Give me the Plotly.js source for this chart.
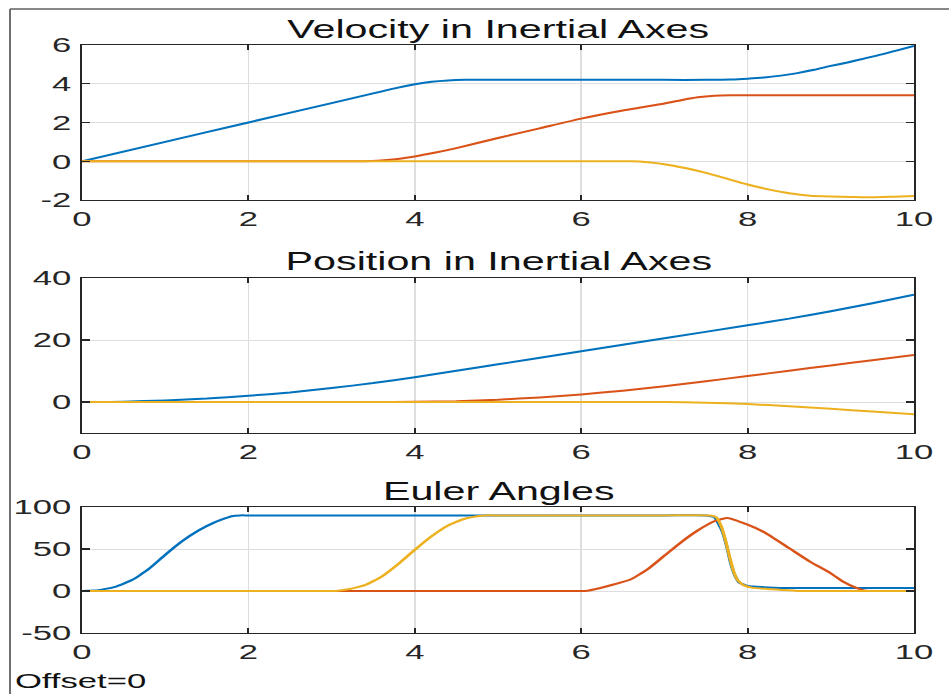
<!DOCTYPE html>
<html>
<head>
<meta charset="utf-8">
<script src="https://cdn.plot.ly/plotly-3.0.1.min.js"></script>
<style>
  html, body { margin: 0; padding: 0; background: #ffffff; overflow: hidden; }
  #wrap { width: 949px; height: 694px; overflow: hidden; position: relative; }
  #chart { width: 575px; height: 694px; transform: scaleX(1.6504); transform-origin: 0 0; }
</style>
</head>
<body>
<div id="wrap"><div id="chart"></div></div>
<script>
// ---------- Velocity in Inertial Axes ----------
const velBlueT = [0, 1, 2, 3, 3.5, 3.8, 4, 4.2, 4.4, 4.6, 5, 6, 7, 7.5, 7.8, 8, 8.2, 8.4, 8.6, 8.8, 9, 9.2, 9.4, 9.6, 9.8, 10];
const velBlueV = [0, 1, 2, 3, 3.5, 3.8, 3.97, 4.1, 4.17, 4.2, 4.2, 4.2, 4.2, 4.2, 4.22, 4.26, 4.32, 4.42, 4.55, 4.72, 4.92, 5.1, 5.3, 5.5, 5.72, 5.95];
const velOrangeT = [0, 3.2, 3.4, 3.7, 4, 4.25, 4.5, 5, 5.5, 6, 6.5, 7, 7.2, 7.4, 7.6, 7.8, 8, 9, 10];
const velOrangeV = [0, 0, 0, 0.08, 0.25, 0.45, 0.68, 1.2, 1.7, 2.2, 2.62, 2.98, 3.15, 3.3, 3.38, 3.4, 3.4, 3.4, 3.4];
const velYellowT = [0, 6.4, 6.6, 6.8, 7, 7.25, 7.5, 7.75, 8, 8.25, 8.5, 8.75, 9, 9.25, 9.5, 9.75, 10];
const velYellowV = [0, 0, 0, -0.05, -0.15, -0.35, -0.6, -0.9, -1.2, -1.45, -1.65, -1.78, -1.82, -1.84, -1.86, -1.83, -1.8];

// ---------- Position in Inertial Axes ----------
const posBlueT = [0, 0.5, 1, 1.5, 2, 2.5, 3, 3.5, 4, 4.5, 5, 6, 7, 8, 8.5, 9, 9.5, 10];
const posBlueV = [0, 0.12, 0.5, 1.12, 2, 3.1, 4.5, 6.1, 8, 10.05, 12.15, 16.35, 20.55, 24.75, 26.9, 29.3, 31.85, 34.6];
const posOrangeT = [0, 3.5, 4, 4.5, 5, 5.5, 6, 6.5, 7, 7.5, 8, 8.5, 9, 9.5, 10];
const posOrangeV = [0, 0, 0.05, 0.28, 0.75, 1.48, 2.45, 3.66, 5.09, 6.69, 8.39, 10.09, 11.79, 13.49, 15.19];
const posYellowT = [0, 6.3, 6.6, 7, 7.5, 8, 8.5, 9, 9.5, 10];
const posYellowV = [0, 0, 0, -0.03, -0.22, -0.67, -1.35, -2.2, -3.05, -3.95];

// ---------- Euler Angles ----------
const eulBlueT = [0, 0.2, 0.4, 0.6, 0.8, 1.0, 1.2, 1.4, 1.6, 1.8, 1.9, 2, 3, 4, 5, 6, 7, 7.5, 7.6, 7.65, 7.7, 7.75, 7.8, 7.85, 7.9, 8.0, 8.2, 8.4, 9, 10];
const eulBlueV = [0, 1, 5, 13, 26, 43, 59, 72, 82, 89, 90, 90, 90, 90, 90, 90, 90, 90, 88, 80, 70, 53, 32, 18, 10, 6, 4.5, 3.6, 3.6, 3.6];
const eulOrangeT = [0, 5.9, 6.05, 6.23, 6.4, 6.6, 6.8, 7.0, 7.2, 7.4, 7.6, 7.76, 8.0, 8.2, 8.5, 8.75, 9.0, 9.15, 9.3, 9.4, 9.5, 9.6, 10];
const eulOrangeV = [0, 0, 0, 3.6, 8, 14, 26, 42, 58, 72, 83, 87, 79, 70, 51, 35, 21, 11, 4, 0.8, 0, 0, 0];
const eulYellowT = [0, 2.9, 3.05, 3.2, 3.4, 3.6, 3.8, 4.0, 4.2, 4.4, 4.6, 4.8, 4.85, 5, 6, 7, 7.55, 7.62, 7.68, 7.73, 7.78, 7.83, 7.88, 7.95, 8.05, 8.3, 8.55, 8.6, 8.8, 10];
const eulYellowV = [0, 0, 0, 2, 7, 17, 32, 49, 65, 78, 86, 89.5, 90, 90, 90, 90, 90, 88, 78, 62, 42, 24, 13, 7, 4, 2, 0.5, 0, 0, 0];

const xTicks = [0, 2, 4, 6, 8, 10];
const velTicks = [-2, 0, 2, 4, 6];
const posTicks = [0, 20, 40];
const eulTicks = [-50, 0, 50, 100];

const titles = ["Velocity in Inertial Axes", "Position in Inertial Axes", "Euler Angles"];
const footnote = "Offset=0";

const BLUE = "#0072BD", ORANGE = "#D95319", YELLOW = "#EDB120";
const W = 949, H = 694;

function line(x, y, color, xa, ya) {
  return { x: x, y: y, type: "scatter", mode: "lines", xaxis: xa, yaxis: ya,
           line: { color: color, width: 2, shape: "spline", smoothing: 0.5 }, hoverinfo: "skip", showlegend: false };
}

const data = [
  line(velBlueT, velBlueV, BLUE, "x", "y"),
  line(velOrangeT, velOrangeV, ORANGE, "x", "y"),
  line(velYellowT, velYellowV, YELLOW, "x", "y"),
  line(posBlueT, posBlueV, BLUE, "x2", "y2"),
  line(posOrangeT, posOrangeV, ORANGE, "x2", "y2"),
  line(posYellowT, posYellowV, YELLOW, "x2", "y2"),
  line(eulBlueT, eulBlueV, BLUE, "x3", "y3"),
  line(eulOrangeT, eulOrangeV, ORANGE, "x3", "y3"),
  line(eulYellowT, eulYellowV, YELLOW, "x3", "y3")
];

const tickFont = { family: "Liberation Sans, Arial, sans-serif", size: 21, color: "#262626" };
const xDom = [82 / W, 914 / W];
function yDom(top, bottom) { return [(H - bottom) / H, (H - top) / H]; }

function xAxis(anchor) {
  return { domain: xDom, anchor: anchor, range: [0, 10], tickvals: xTicks, ticktext: xTicks.map(String),
           showgrid: true, gridcolor: "#dedede", gridwidth: 1, zeroline: false,
           showline: true, linecolor: "#262626", linewidth: 1.3, mirror: "ticks",
           ticks: "inside", ticklen: 5, tickwidth: 1.3, tickcolor: "#262626",
           tickfont: tickFont, fixedrange: true };
}
function yAxis(anchor, dom, range, ticks) {
  return { domain: dom, anchor: anchor, range: range, tickvals: ticks, ticktext: ticks.map(String),
           showgrid: true, gridcolor: "#dedede", gridwidth: 1, zeroline: false,
           showline: true, linecolor: "#262626", linewidth: 1.3, mirror: "ticks",
           ticks: "inside", ticklen: 5, tickwidth: 1.3, tickcolor: "#262626",
           tickfont: tickFont, ticklabelstandoff: 1, fixedrange: true };
}

const titleFont = { family: "Liberation Sans, Arial, sans-serif", size: 25, color: "#111111" };
const xc = (82 + 914) / 2 / W;

const layout = {
  width: 575, height: H,
  margin: { l: 0, r: 0, t: 0, b: 0, pad: 0 },
  paper_bgcolor: "#ffffff", plot_bgcolor: "#ffffff",
  showlegend: false,
  xaxis: xAxis("y"),
  yaxis: yAxis("x", yDom(45, 200), [-2, 6], velTicks),
  xaxis2: xAxis("y2"),
  yaxis2: yAxis("x2", yDom(278, 433), [-10, 40], posTicks),
  xaxis3: xAxis("y3"),
  yaxis3: yAxis("x3", yDom(507, 633), [-50, 100], eulTicks),
  annotations: [
    { text: titles[0], xref: "paper", yref: "paper", x: xc, y: (H - 29) / H, xanchor: "center", yanchor: "middle", showarrow: false, font: titleFont },
    { text: titles[1], xref: "paper", yref: "paper", x: xc, y: (H - 261) / H, xanchor: "center", yanchor: "middle", showarrow: false, font: titleFont },
    { text: titles[2], xref: "paper", yref: "paper", x: xc, y: (H - 491) / H, xanchor: "center", yanchor: "middle", showarrow: false, font: titleFont },
    { text: footnote, xref: "paper", yref: "paper", x: 11 / W, y: (H - 680) / H, xanchor: "left", yanchor: "middle", showarrow: false,
      font: { family: "Liberation Sans, Arial, sans-serif", size: 21, color: "#111111" } }
  ],
  shapes: [
    { type: "line", xref: "paper", yref: "paper", x0: 10 / W, x1: 1, y0: (H - 9) / H, y1: (H - 9) / H, line: { color: "#606060", width: 1.6 } },
    { type: "line", xref: "paper", yref: "paper", x0: 10 / W, x1: 10 / W, y0: 0, y1: (H - 9) / H, line: { color: "#606060", width: 1.1 } }
  ]
};

Plotly.newPlot("chart", data, layout, { staticPlot: true, displayModeBar: false });
</script>
</body>
</html>
